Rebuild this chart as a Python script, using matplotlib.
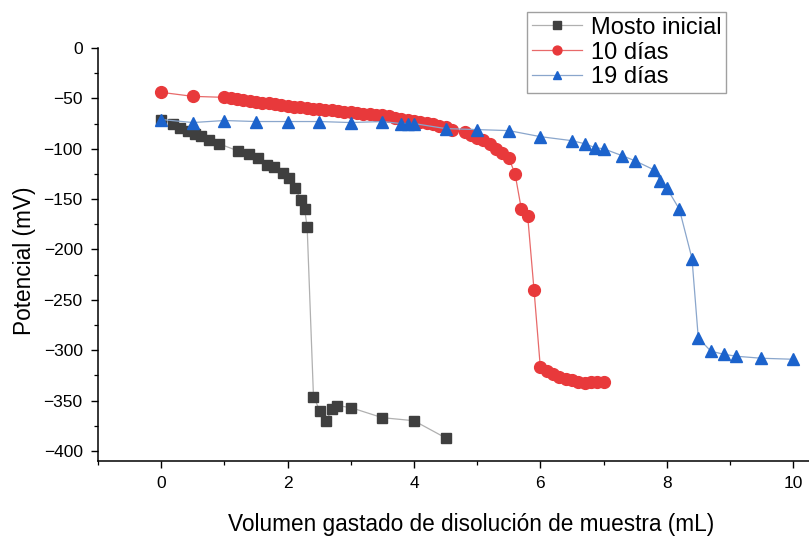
import matplotlib
matplotlib.use("Agg")
import matplotlib.pyplot as plt
from matplotlib.ticker import MultipleLocator

plt.rcParams['font.family'] = ['Liberation Sans', 'DejaVu Sans']

# Mosto inicial
x_mosto = [0.0, 0.18, 0.29, 0.42, 0.53, 0.63, 0.76, 0.91, 1.21, 1.39, 1.53, 1.67, 1.79, 1.92,
           2.03, 2.12, 2.21, 2.27, 2.31, 2.41, 2.51, 2.61, 2.71, 2.79, 3.0, 3.5, 4.0, 4.5]
y_mosto = [-71, -75, -79, -82, -85, -87, -91, -95, -102, -105, -109, -116, -118, -124,
           -129, -139, -151, -160, -178, -346, -360, -370, -358, -355, -357, -367, -370, -387]

# 10 días
x_10 = [0.0, 0.5, 1.0, 1.1, 1.2, 1.3, 1.4, 1.5, 1.6, 1.7, 1.8, 1.9, 2.0, 2.1, 2.2, 2.3, 2.4,
        2.5, 2.6, 2.7, 2.8, 2.9, 3.0, 3.1, 3.2, 3.3, 3.4, 3.5, 3.6, 3.7, 3.8, 3.9, 4.0,
        4.1, 4.2, 4.3, 4.4, 4.5, 4.6, 4.8, 4.9, 5.0, 5.1, 5.2, 5.3, 5.4, 5.5, 5.6, 5.7,
        5.8, 5.9, 6.0, 6.1, 6.2, 6.3, 6.4, 6.5, 6.6, 6.7, 6.8, 6.9, 7.0]
y_10 = [-44, -48, -49, -50, -51, -52, -53, -54, -55, -55, -56, -57, -58, -59, -59, -60, -61,
        -61, -62, -62, -63, -64, -64, -65, -66, -66, -67, -67, -68, -69, -70, -71, -72,
        -73, -74, -75, -77, -78, -81, -83, -86, -89, -91, -95, -100, -104, -109, -125, -160,
        -167, -240, -317, -321, -324, -327, -329, -330, -332, -333, -332, -332, -332]

# 19 días
x_19 = [0.0, 0.5, 1.0, 1.5, 2.0, 2.5, 3.0, 3.5, 3.8, 3.9, 4.0, 4.5, 5.0, 5.5, 6.0, 6.5, 6.7,
        6.87, 7.0, 7.3, 7.5, 7.8, 7.9, 8.0, 8.2, 8.4, 8.5, 8.7, 8.9, 9.1, 9.5, 10.0]
y_19 = [-71, -74, -72, -73, -73, -73, -74, -73, -75, -75, -75, -80, -81, -82, -88, -92, -95,
        -99, -100, -107, -112, -121, -132, -139, -160, -209, -288, -301, -304, -306, -308, -309]

x_ticks = [0, 2, 4, 6, 8, 10]
y_ticks = [0, -50, -100, -150, -200, -250, -300, -350, -400]

fig = plt.figure(figsize=(8.09, 5.42), dpi=100)
# axes extends slightly beyond the right edge of the (cropped) figure
ax = fig.add_axes([98 / 809, 1 - 461 / 542, (844 - 98) / 809, (461 - 48) / 542])

ax.plot(x_mosto, y_mosto, '-', color='#b0b0b0', lw=0.9, marker='s', ms=7.5,
        mfc='#3f3f3f', mec='#3f3f3f', label='Mosto inicial')
ax.plot(x_10, y_10, '-', color='#e86a6a', lw=0.9, marker='o', ms=8.5,
        mfc='#e8393b', mec='#e8393b', label='10 días')
ax.plot(x_19, y_19, '-', color='#8aa6cc', lw=0.9, marker='^', ms=8.5,
        mfc='#1c63cc', mec='#1c63cc', label='19 días')

ax.set_xlim(-1, (844 - 160) / 63.3)
ax.set_ylim(-410, 0)
ax.set_xticks(x_ticks)
ax.set_yticks(y_ticks)
ax.set_yticklabels([str(v).replace('-', '\u2212') for v in y_ticks])
ax.xaxis.set_minor_locator(MultipleLocator(1))
ax.yaxis.set_minor_locator(MultipleLocator(25))
ax.tick_params(which='major', direction='out', length=5, width=1, labelsize=12.5, pad=6)
ax.tick_params(which='minor', direction='out', length=3, width=0.9)

for s in ['top', 'right']:
    ax.spines[s].set_visible(False)
for s in ['left', 'bottom']:
    ax.spines[s].set_linewidth(1.1)

ax.set_xlabel('Volumen gastado de disolución de muestra (mL)', fontsize=16.3, labelpad=16)
ax.set_ylabel('Potencial (mV)', fontsize=16.3)
ax.yaxis.set_label_coords(-0.083, 0.485)

leg = ax.legend(loc='upper left', bbox_to_anchor=(527 / 809, 1 - 12 / 542),
                bbox_transform=fig.transFigure, fontsize=17, frameon=True, fancybox=False,
                edgecolor='#888888', borderpad=0.2, labelspacing=0.12, handlelength=2.15,
                handletextpad=0.35, borderaxespad=0, markerscale=0.75)
leg.get_frame().set_linewidth(1.0)
ax.patch.set_alpha(0)

fig.savefig('out.png', dpi=100)
